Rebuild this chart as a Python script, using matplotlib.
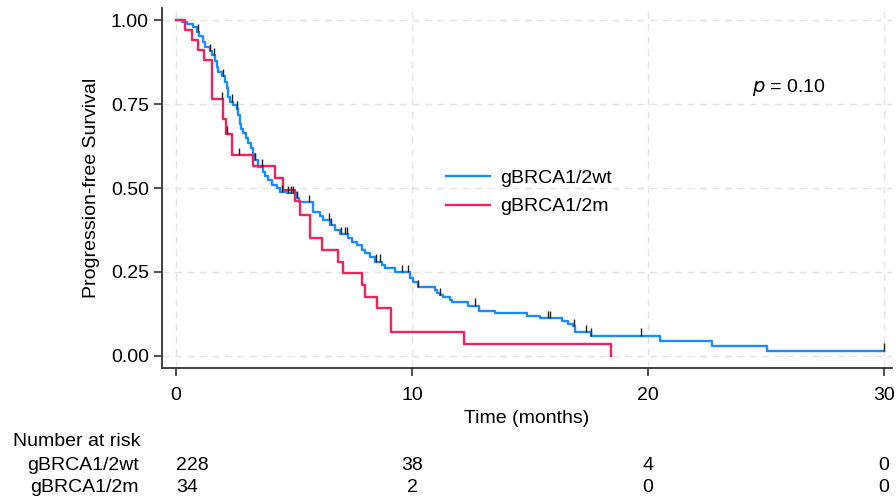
import numpy as np
import matplotlib
matplotlib.use('Agg')
import matplotlib.pyplot as plt

plt.rcParams['font.family'] = ['Liberation Sans', 'DejaVu Sans']
plt.rcParams['font.size'] = 14

# Kaplan-Meier steps (time in months, survival after drop)
wt_t = [0, 0.25, 0.47, 0.72, 0.89, 0.97, 1.14, 1.23, 1.44, 1.53, 1.65, 1.74, 1.78,
        1.95, 2.08, 2.16, 2.20, 2.29, 2.42, 2.58, 2.63, 2.71, 2.75, 2.84, 2.97,
        3.05, 3.18, 3.26, 3.35, 3.47, 3.69, 3.77, 3.90, 4.07, 4.28, 4.41, 4.70,
        5.13, 5.21, 5.81, 6.10, 6.23, 6.53, 6.74, 6.95, 7.29, 7.46, 7.67, 7.88,
        8.01, 8.22, 8.43, 8.73, 8.86, 9.28, 9.92, 10.04, 10.25, 10.97, 11.06,
        11.19, 11.31, 11.61, 11.69, 12.37, 12.84, 13.52, 14.87, 15.42, 16.36,
        16.61, 16.82, 16.91, 17.58, 20.51, 22.71, 25.04, 30.0]
wt_s = [1.000, 0.993, 0.987, 0.978, 0.965, 0.952, 0.934, 0.921, 0.908, 0.895, 0.879,
        0.860, 0.846, 0.833, 0.815, 0.797, 0.772, 0.757, 0.747, 0.736, 0.717,
        0.690, 0.675, 0.664, 0.650, 0.634, 0.620, 0.600, 0.583, 0.563, 0.548,
        0.536, 0.524, 0.509, 0.500, 0.488, 0.485, 0.470, 0.458, 0.430, 0.418,
        0.405, 0.390, 0.375, 0.362, 0.351, 0.339, 0.330, 0.315, 0.307, 0.295,
        0.280, 0.271, 0.262, 0.250, 0.232, 0.220, 0.205, 0.196, 0.188, 0.180,
        0.176, 0.167, 0.161, 0.149, 0.134, 0.128, 0.119, 0.113, 0.104, 0.095,
        0.089, 0.071, 0.060, 0.045, 0.030, 0.015, 0.015]
wt_cens = [0.93, 1.44, 1.61, 1.99, 2.37, 2.58, 3.35, 3.64, 4.49, 4.75, 4.87, 4.96,
           5.13, 5.64, 6.48, 6.57, 6.99, 7.16, 7.25, 8.47, 8.64, 9.58, 9.83, 10.25,
           11.19, 12.67, 15.76, 15.85, 16.86, 17.37, 17.58, 19.70, 30.0]

m_t = [0, 0.38, 0.68, 0.93, 1.19, 1.52, 2.00, 2.12, 2.37, 3.26, 4.20, 4.53, 5.05,
       5.25, 5.68, 6.19, 6.86, 7.08, 7.88, 8.01, 8.52, 9.11, 12.20, 18.43]
m_s = [1.000, 0.970, 0.941, 0.912, 0.882, 0.765, 0.706, 0.662, 0.597, 0.565, 0.530,
       0.495, 0.460, 0.420, 0.350, 0.315, 0.280, 0.247, 0.210, 0.176, 0.143,
       0.072, 0.036, 0.000]
m_cens = [1.95, 2.16, 2.67]

groups = ['gBRCA1/2wt', 'gBRCA1/2m']
colors = ['#1a8cff', '#f0245c']
risk_times = [0, 10, 20, 30]
risk_wt = [228, 38, 4, 0]
risk_m = [34, 2, 0, 0]

fig = plt.figure(figsize=(8.96, 4.98), dpi=100)
ax = fig.add_axes([162/896, 1-368/498, 730/896, 360/498])

def km_at(t, ts, ss):
    i = np.searchsorted(ts, t, side='right') - 1
    return ss[max(i, 0)]

for ts, ss, cens, col, lab in [(wt_t, wt_s, wt_cens, colors[0], groups[0]),
                               (m_t, m_s, m_cens, colors[1], groups[1])]:
    ax.step(ts, ss, where='post', color=col, lw=1.7, label=lab, zorder=3)
    cy = np.array([km_at(c, ts, ss) for c in cens])
    # censor ticks stick up from the curve
    ax.vlines(cens, cy, cy + 0.022, color='#222222', lw=1.0, zorder=4)

ax.set_xlim(-0.6, 30.35)
ax.set_ylim(-0.036, 1.036)
ax.set_xticks([0, 10, 20, 30])
ax.set_yticks([0, 0.25, 0.5, 0.75, 1.0])
ax.set_yticklabels(['0.00', '0.25', '0.50', '0.75', '1.00'])
ax.grid(True, color='#e3e3e3', linestyle=(0, (5, 4)), lw=1.0)
ax.set_axisbelow(True)
for s in ['top', 'right']:
    ax.spines[s].set_visible(False)
for s in ['left', 'bottom']:
    ax.spines[s].set_color('#333333')
    ax.spines[s].set_linewidth(1.3)
ax.tick_params(length=6, width=1.2, color='#333333', labelsize=14)
ax.tick_params(axis='x', pad=8)
ax.set_xlabel('Time (months)', fontsize=14, labelpad=4)
ax.set_ylabel('Progression-free Survival', fontsize=14, labelpad=8)

ax.text(0.808, 0.778, r'$\it{p}$ = 0.10', transform=ax.transAxes, fontsize=14,
        ha='left', va='center')
ax.legend(loc='upper left', bbox_to_anchor=(0.378, 0.573), frameon=False,
          fontsize=14, handlelength=2.3, handletextpad=0.5, labelspacing=0.55,
          borderaxespad=0)

# number at risk table
fig.text(13/896, 1-441/498, 'Number at risk', fontsize=14, ha='left', va='center')
for row, (lab, vals) in enumerate([(groups[0], risk_wt), (groups[1], risk_m)]):
    yy = 1 - (465 + row*22)/498
    fig.text(139/896, yy, lab, fontsize=14, ha='right', va='center')
    for t, v in zip(risk_times, vals):
        xp = ax.transData.transform((t, 0))[0] / fig.bbox.width
        if t == 0:
            fig.text(xp, yy, str(v), fontsize=14, ha='left', va='center')
        else:
            fig.text(xp, yy, str(v), fontsize=14, ha='center', va='center')

fig.savefig('out.png', dpi=100)
